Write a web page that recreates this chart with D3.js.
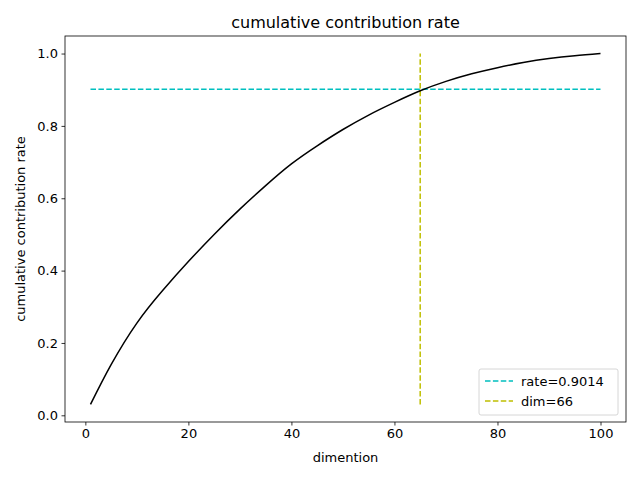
<!DOCTYPE html>
<html><head><meta charset="utf-8">
<script src="https://cdn.jsdelivr.net/npm/d3@7"></script>
<style>body{margin:0;background:#fff}text{font-family:"DejaVu Sans",sans-serif}</style>
</head><body>
<svg id="chart" width="640" height="480"></svg>
<script>
const dims = [1, 5, 10, 15, 20, 25, 30, 35, 40, 45, 50, 55, 60, 65, 70, 75, 80, 85, 90, 95, 100];
const rates = [0.03, 0.14, 0.255, 0.345, 0.425, 0.50, 0.57, 0.635, 0.695, 0.745, 0.79, 0.83, 0.865, 0.897, 0.923, 0.944, 0.961, 0.975, 0.986, 0.994, 1.0];
const rateLine = 0.9014;
const dimLine = 65;
const xTicks = [0, 20, 40, 60, 80, 100];
const yTicks = [0.0, 0.2, 0.4, 0.6, 0.8, 1.0];

const svg = d3.select('#chart');
const L = 65, R = 626, T = 36, B = 422;
const x = d3.scaleLinear().domain([-3.95, 104.95]).range([L, R]);
const y = d3.scaleLinear().domain([-0.0185, 1.0485]).range([B, T]);

const xAxis = svg.append('g').attr('transform', `translate(0,${B})`)
  .call(d3.axisBottom(x).tickValues(xTicks).tickSize(3.5).tickPadding(3.5).tickFormat(d3.format('d')));
const yAxis = svg.append('g').attr('transform', `translate(${L},0)`)
  .call(d3.axisLeft(y).tickValues(yTicks).tickSize(3.5).tickPadding(3.5).tickFormat(d3.format('.1f')));
[xAxis, yAxis].forEach(a => {
  a.select('.domain').remove();
  a.selectAll('text').attr('font-size', 13).attr('fill', '#000').style('font-family', 'DejaVu Sans');
  a.selectAll('line').attr('stroke', '#000').attr('stroke-width', 0.8);
});
svg.append('rect').attr('x', L).attr('y', T).attr('width', R - L).attr('height', B - T)
  .attr('fill', 'none').attr('stroke', '#000').attr('stroke-width', 0.8);

svg.append('line').attr('x1', x(1)).attr('x2', x(100)).attr('y1', y(rateLine)).attr('y2', y(rateLine))
  .attr('stroke', '#00bfbf').attr('stroke-width', 1.5).attr('stroke-dasharray', '5.5,2.4');
svg.append('line').attr('x1', x(dimLine)).attr('x2', x(dimLine)).attr('y1', y(rates[0])).attr('y2', y(1.0))
  .attr('stroke', '#bfbf00').attr('stroke-width', 1.5).attr('stroke-dasharray', '5.5,2.4');

svg.append('path').datum(dims.map((d, i) => [d, rates[i]]))
  .attr('d', d3.line().x(d => x(d[0])).y(d => y(d[1])).curve(d3.curveNatural))
  .attr('fill', 'none').attr('stroke', '#000').attr('stroke-width', 1.5);

svg.append('text').attr('x', (L + R) / 2).attr('y', T - 8).attr('text-anchor', 'middle')
  .attr('font-size', 16).text('cumulative contribution rate');
svg.append('text').attr('x', (L + R) / 2).attr('y', 462).attr('text-anchor', 'middle')
  .attr('font-size', 13).text('dimention');
svg.append('text').attr('transform', `translate(25,${(T + B) / 2}) rotate(-90)`).attr('text-anchor', 'middle')
  .attr('font-size', 13).text('cumulative contribution rate');

const lg = svg.append('g').attr('transform', 'translate(479,369)');
lg.append('rect').attr('width', 139).attr('height', 46).attr('rx', 2)
  .attr('fill', '#fff').attr('stroke', '#ccc').attr('stroke-width', 0.8);
[['rate=0.9014', '#00bfbf'], ['dim=66', '#bfbf00']].forEach((e, i) => {
  const yy = 12 + i * 20;
  lg.append('line').attr('x1', 6).attr('x2', 34).attr('y1', yy).attr('y2', yy)
    .attr('stroke', e[1]).attr('stroke-width', 1.5).attr('stroke-dasharray', '5.5,2.4');
  lg.append('text').attr('x', 42).attr('y', yy + 4.5).attr('font-size', 13).text(e[0]);
});
</script>
</body></html>
